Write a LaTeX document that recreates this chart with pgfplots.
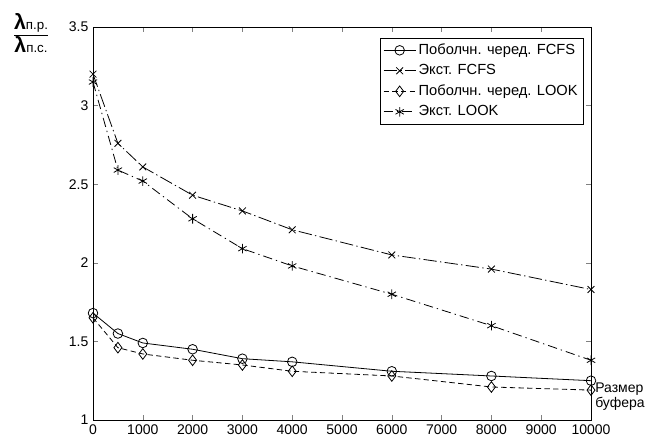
\documentclass[border=0pt]{standalone}
\usepackage{pgfplots}
\pgfplotsset{compat=1.18}
\usepackage{fontspec}
\setmainfont{Liberation Sans}
\usetikzlibrary{calc}
\begin{document}
\begin{tikzpicture}
\begin{axis}[
  scale only axis,
  width=373.5pt, height=294.75pt,
  xmin=0, xmax=10000, ymin=1, ymax=3.5,
  xtick={0,1000,...,10000},
  ytick={1,1.5,2,2.5,3,3.5},
  tick align=inside,
  major tick length=4pt,
  xtick pos=both, ytick pos=both,
  scaled x ticks=false,
  /pgf/number format/assume math mode=true,
  /pgf/number format/set thousands separator={},
  tick label style={font=\fontsize{10.5}{12}\selectfont},
  clip=false,
  axis line style={line width=0.6pt},
  legend style={at={(rel axis cs:0.986,0.973)}, anchor=north east, draw=black, line width=0.5pt,
    font=\fontsize{11}{13}\selectfont, inner sep=2.5pt, row sep=2pt, cells={anchor=west}},
  legend cell align=left,
  every axis plot/.append style={line width=0.6pt, black,
    legend image code/.code={\draw[mark repeat=2,mark phase=2,##1] plot coordinates {(0cm,0cm)(0.42cm,0cm)(0.84cm,0cm)};}},
]
\addplot[mark=o, mark size=3.6pt, mark options={solid}] coordinates {
(0,1.68) (500,1.55) (1000,1.49) (2000,1.45) (3000,1.39) (4000,1.37) (6000,1.31) (8000,1.28) (10000,1.25)};
\addlegendentry{Поболчн. черед. FCFS}
\addplot[mark=x, mark size=3.6pt, mark options={solid}, dash pattern=on 10pt off 2.5pt on 1pt off 2.5pt] coordinates {
(0,3.2) (500,2.76) (1000,2.61) (2000,2.43) (3000,2.33) (4000,2.21) (6000,2.05) (8000,1.96) (10000,1.83)};
\addlegendentry{Экст. FCFS}
\addplot[mark=diamond, mark size=4pt, mark options={solid}, dash pattern=on 4pt off 2.5pt] coordinates {
(0,1.65) (500,1.46) (1000,1.42) (2000,1.38) (3000,1.35) (4000,1.31) (6000,1.28) (8000,1.21) (10000,1.19)};
\addlegendentry{Поболчн. черед. LOOK}
\addplot[mark=asterisk, mark size=3.6pt, mark options={solid}, dash pattern=on 7pt off 3pt on 1pt off 3pt] coordinates {
(0,3.15) (500,2.59) (1000,2.52) (2000,2.28) (3000,2.09) (4000,1.98) (6000,1.80) (8000,1.60) (10000,1.38)};
\addlegendentry{Экст. LOOK}
\node[anchor=west, align=left, inner sep=0pt, font=\fontsize{10.5}{11.5}\selectfont] at ($(rel axis cs:1,0)+(3pt,17.5pt)$) {Размер\\буфера};
\end{axis}
\node[inner sep=0pt] at ($(current axis.north west)+(-46.5pt,-4.5pt)$)
  {$\displaystyle\frac{\mbox{\fontsize{16}{17}\selectfont\textbf{λ}\fontsize{10}{11}\selectfont п.р.}}{\mbox{\fontsize{16}{17}\selectfont\textbf{λ}\fontsize{10}{11}\selectfont п.с.}}$};
\pgfresetboundingbox
\path ($(current axis.south west)+(-69.75pt,-12.75pt)$) rectangle ($(current axis.north east)+(51pt,20.25pt)$);
\end{tikzpicture}
\end{document}
